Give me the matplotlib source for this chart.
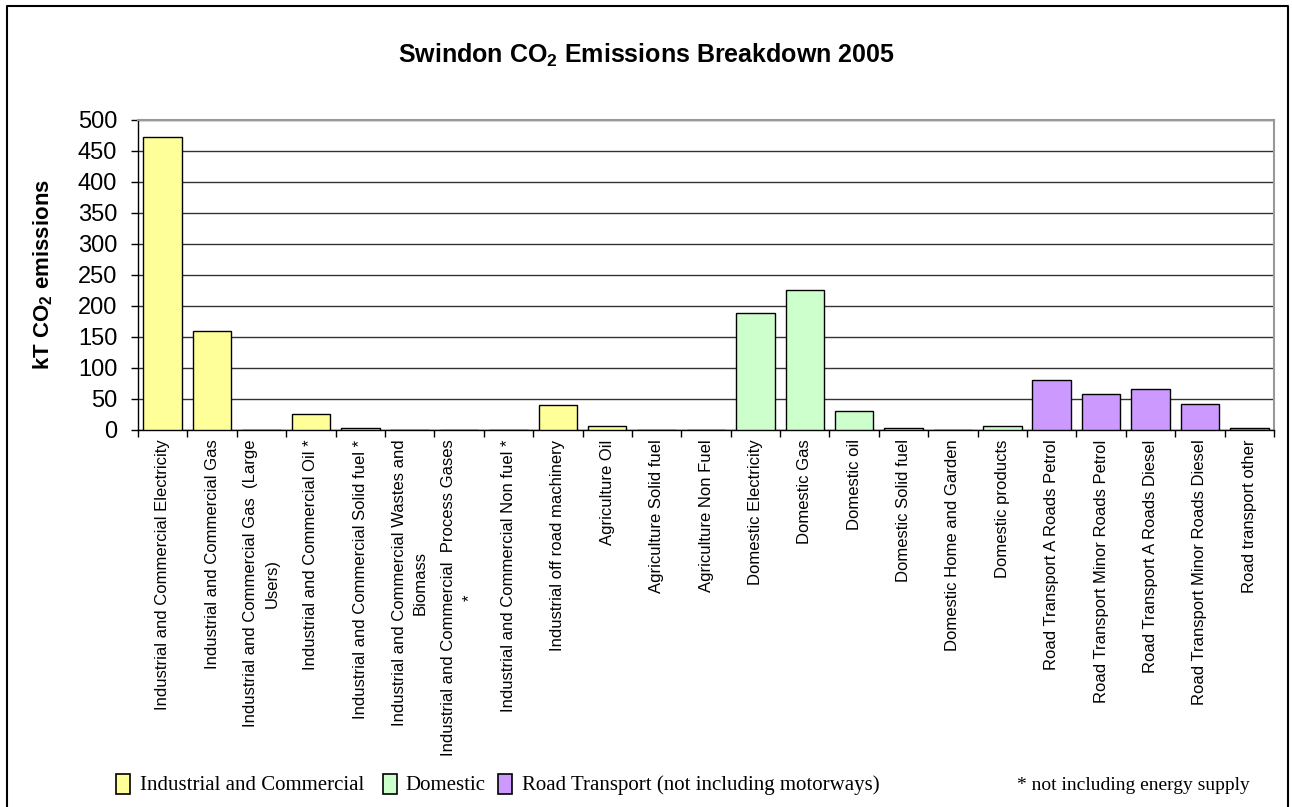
import matplotlib.pyplot as plt
import numpy as np
from matplotlib.patches import Rectangle
from matplotlib.lines import Line2D

plt.rcParams['font.family'] = ['Liberation Sans', 'DejaVu Sans']
plt.rcParams['mathtext.fontset'] = 'custom'
plt.rcParams['mathtext.rm'] = 'Liberation Sans'
plt.rcParams['mathtext.bf'] = 'Liberation Sans:bold'

# Data (kT CO2, 2005)
categories = [
    "Industrial and Commercial Electricity",
    "Industrial and Commercial Gas",
    "Industrial and Commercial Gas  (Large\nUsers)",
    "Industrial and Commercial Oil *",
    "Industrial and Commercial Solid fuel *",
    "Industrial and Commercial Wastes and\nBiomass",
    "Industrial and Commercial  Process Gases\n*",
    "Industrial and Commercial Non fuel *",
    "Industrial off road machinery",
    "Agriculture Oil",
    "Agriculture Solid fuel",
    "Agriculture Non Fuel",
    "Domestic Electricity",
    "Domestic Gas",
    "Domestic oil",
    "Domestic Solid fuel",
    "Domestic Home and Garden",
    "Domestic products",
    "Road Transport A Roads Petrol",
    "Road Transport Minor Roads Petrol",
    "Road Transport A Roads Diesel",
    "Road Transport Minor Roads Diesel",
    "Road transport other",
]
values = [473, 160, 0, 26, 3, 0, 0, 0, 40, 6, 0, 0,
          188, 225, 30, 2, 0, 6,
          80, 58, 65, 41, 2]
groups = ["ind"] * 12 + ["dom"] * 6 + ["road"] * 5

group_names = ["Industrial and Commercial", "Domestic",
               "Road Transport (not including motorways)"]
group_colors = {"ind": "#FFFF99", "dom": "#CCFFCC", "road": "#CC99FF"}
footnote = "* not including energy supply"

W, H = 1292, 807
fig = plt.figure(figsize=(W / 100, H / 100), dpi=100)

ax = fig.add_axes([138 / W, 1 - 429.7 / H, (1274 - 138) / W, (429.7 - 120) / H])

x = np.arange(len(categories))
colors = [group_colors[g] for g in groups]
ax.bar(x, values, width=0.78, color=colors, edgecolor='black', linewidth=1.0, zorder=3)

ax.set_xlim(-0.5, len(categories) - 0.5)
ax.set_ylim(0, 500)
ax.set_yticks(np.arange(0, 501, 50))
ax.tick_params(axis='y', labelsize=17, length=5, width=1, pad=10, direction='out')

ax.set_xticks(x)
ax.set_xticklabels(categories, rotation=90, ha='center', va='top',
                   multialignment='center', fontsize=12, linespacing=1.5)
ax.tick_params(axis='x', which='major', length=0, pad=7)
ax.set_xticks(np.arange(-0.5, len(categories), 1), minor=True)
ax.tick_params(axis='x', which='minor', length=5, width=1, direction='out')

ax.set_axisbelow(True)
ax.yaxis.grid(True, color='#333333', linewidth=1.0)
for s in ['top', 'right']:
    ax.spines[s].set_color('#999999')
    ax.spines[s].set_linewidth(1.5)
for s in ['left', 'bottom']:
    ax.spines[s].set_color('black')
    ax.spines[s].set_linewidth(1.0)

ax.set_ylabel(r"kT CO$_\mathbf{2}$ emissions", fontsize=16, fontweight='bold')
ax.yaxis.set_label_coords((55 - 138) / 1136, 0.5)

fig.text(646 / W, 1 - 55 / H, r"Swindon CO$_\mathbf{2}$ Emissions Breakdown 2005",
         ha='center', va='center', fontsize=18, fontweight='bold')

# legend drawn by hand along the bottom
patch_x = [116, 383, 498]
text_x = [140, 405, 522]
for g, name, px, tx in zip(["ind", "dom", "road"], group_names, patch_x, text_x):
    fig.patches.append(Rectangle((px / W, 1 - 794 / H), 14 / W, 20 / H,
                                 transform=fig.transFigure, facecolor=group_colors[g],
                                 edgecolor='black', linewidth=1.2))
    fig.text(tx / W, 1 - 785 / H, name, ha='left', va='center',
             fontsize=15, family=['Liberation Serif', 'DejaVu Serif'])
fig.text(1017 / W, 1 - 785 / H, footnote, ha='left', va='center',
         fontsize=14, family=['Liberation Serif', 'DejaVu Serif'])

# chart border (open at the bottom)
bx0, bx1, by = 7 / W, 1288 / W, 1 - 6 / H
fig.add_artist(Line2D([bx0, bx0, bx1, bx1], [0, by, by, 0],
                      transform=fig.transFigure, color='black', linewidth=1.5))

fig.savefig("out.png", dpi=100)
